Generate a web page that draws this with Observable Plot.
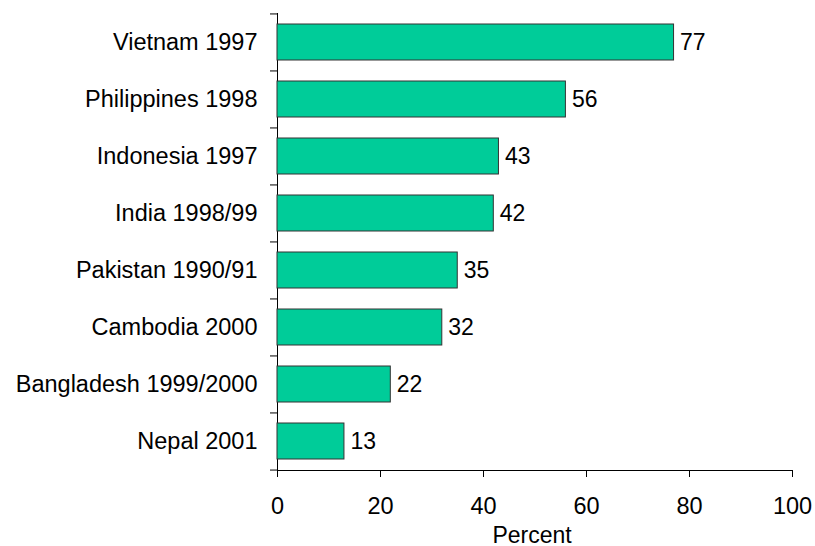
<!DOCTYPE html>
<html>
<head>
<meta charset="utf-8">
<script src="https://cdn.jsdelivr.net/npm/d3@7"></script>
<script src="https://cdn.jsdelivr.net/npm/@observablehq/plot@0.6"></script>
<style>
  html, body { margin: 0; padding: 0; background: #fff; }
</style>
</head>
<body>
<div id="chart"></div>
<script>
const categories = ["Vietnam 1997", "Philippines 1998", "Indonesia 1997", "India 1998/99",
  "Pakistan 1990/91", "Cambodia 2000", "Bangladesh 1999/2000", "Nepal 2001"];
const values = [77, 56, 43, 42, 35, 32, 22, 13];
const xTicks = [0, 20, 40, 60, 80, 100];
const xTitle = "Percent";

const data = categories.map((c, i) => ({label: c, value: values[i]}));

const W = 815, H = 546, mL = 277, mR = 23, mT = 13, mB = 76;
const step = (H - mT - mB) / categories.length;
const font = "'Liberation Sans', Arial, sans-serif";

const chart = Plot.plot({
  width: W,
  height: H,
  marginLeft: mL,
  marginRight: mR,
  marginTop: mT,
  marginBottom: mB,
  style: {fontFamily: font, fontSize: "23.5px", color: "#000", background: "#fff"},
  x: {domain: [0, 100], ticks: xTicks, tickSize: 7, tickPadding: 20, line: true,
      label: null, tickFormat: d => d},
  y: {domain: categories, paddingInner: 0.37, paddingOuter: 0.185, tickSize: 0,
      tickPadding: 20, line: true, label: null},
  marks: [
    Plot.barX(data, {y: "label", x: "value", fill: "#00CC99", stroke: "#333", strokeWidth: 1}),
    Plot.text(data, {y: "label", x: "value", text: d => String(d.value), textAnchor: "start",
      dx: 6, fontSize: 23, fill: "#000"}),
    Plot.ruleY(categories, {y: d => d, x1: 0, x2: 0, insetLeft: -7, dy: -step / 2, stroke: "#000"}),
    Plot.ruleY(categories.slice(-1), {y: d => d, x1: 0, x2: 0, insetLeft: -7, dy: step / 2, stroke: "#000"}),
    Plot.text([xTitle], {frameAnchor: "bottom", text: d => d, dy: 72, dx: -3, fontSize: 23, fill: "#000"})
  ]
});
document.getElementById("chart").appendChild(chart);
</script>
</body>
</html>
